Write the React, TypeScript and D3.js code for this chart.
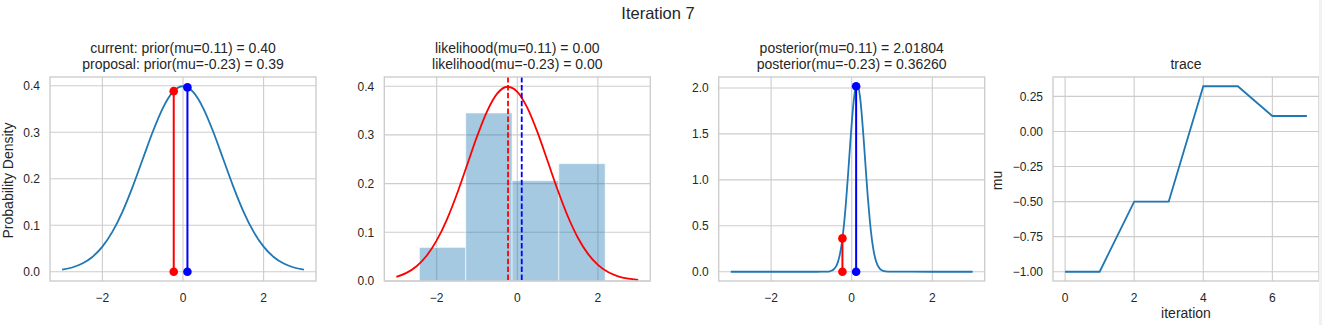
import React from "react";
import * as d3 from "d3";

// ---------- data ----------
const suptitle = "Iteration 7";
const currentMu = 0.11;
const proposalMu = -0.23;
const priorCurrent = 0.3965;
const priorProposal = 0.3885;
const postCurrent = 2.01804;
const postProposal = 0.3626;

const priorX = [-3, -2.75, -2.5, -2.25, -2, -1.75, -1.5, -1.25, -1, -0.75, -0.5, -0.25, 0, 0.25, 0.5, 0.75, 1, 1.25, 1.5, 1.75, 2, 2.25, 2.5, 2.75, 3];
const priorY = [0.00443, 0.00909, 0.01753, 0.03174, 0.05399, 0.08628, 0.12952, 0.18265, 0.24197, 0.30114, 0.35207, 0.38667, 0.39894, 0.38667, 0.35207, 0.30114, 0.24197, 0.18265, 0.12952, 0.08628, 0.05399, 0.03174, 0.01753, 0.00909, 0.00443];

const likeX = [-3, -2.75, -2.5, -2.25, -2, -1.75, -1.5, -1.25, -1, -0.75, -0.5, -0.25, 0, 0.25, 0.5, 0.75, 1, 1.25, 1.5, 1.75, 2, 2.25, 2.5, 2.75, 3];
const likeY = [0.00861, 0.01667, 0.03034, 0.05186, 0.0833, 0.12566, 0.17811, 0.23713, 0.29659, 0.34849, 0.38466, 0.39886, 0.38853, 0.35553, 0.30563, 0.24681, 0.18724, 0.13343, 0.08934, 0.05618, 0.0332, 0.01842, 0.00961, 0.0047, 0.00217];

const histEdges = [-2.43, -1.28, -0.13, 1.03, 2.18];
const histDensity = [0.069, 0.345, 0.206, 0.241];

const postX = [-3, -2, -1, -0.75, -0.7, -0.6, -0.55, -0.5, -0.45, -0.4, -0.35, -0.3, -0.25, -0.2, -0.15, -0.1, -0.05, 0, 0.05, 0.1, 0.15, 0.2, 0.25, 0.3, 0.35, 0.4, 0.45, 0.5, 0.55, 0.6, 0.7, 0.8, 0.9, 1, 2, 3];
const postY = [0, 0, 0, 0.00008, 0.00024, 0.00183, 0.00461, 0.01088, 0.02402, 0.04975, 0.09652, 0.17538, 0.29862, 0.47653, 0.71237, 0.99802, 1.31006, 1.61122, 1.85679, 2.00501, 2.02862, 1.92321, 1.70839, 1.42201, 1.10901, 0.81042, 0.55487, 0.35599, 0.21398, 0.12056, 0.03147, 0.00633, 0.00098, 0.00012, 0, 0];

const traceIter = [0, 1, 2, 3, 4, 5, 6, 7];
const traceMu = [-1.0, -1.0, -0.5, -0.5, 0.322, 0.322, 0.11, 0.11];

const densityTicks = [0, 0.1, 0.2, 0.3, 0.4];
const posteriorTicks = [0, 0.5, 1.0, 1.5, 2.0];
const muXTicks = [-2, 0, 2];
const iterTicks = [0, 2, 4, 6];
const muTicks = [-1.0, -0.75, -0.5, -0.25, 0.0, 0.25];

const titles = [
  ["current: prior(mu=0.11) = 0.40", "proposal: prior(mu=-0.23) = 0.39"],
  ["likelihood(mu=0.11) = 0.00", "likelihood(mu=-0.23) = 0.00"],
  ["posterior(mu=0.11) = 2.01804", "posterior(mu=-0.23) = 0.36260"],
  ["trace"],
];

// ---------- layout ----------
const W = 1322;
const H = 325;
const TOP = 77;
const BOTTOM = 281;
const PW = 266;
const lefts = [50, 384.3, 718.7, 1053];
const FONT = "'Liberation Sans', Arial, Helvetica, sans-serif";
const TXT = "#262626";
const GRID = "#cccccc";
const BLUE = "#1f77b4";

const fmtMinus = (s: string) => s.replace("-", "\u2212");

type AxProps = {
  i: number;
  x: d3.ScaleLinear<number, number>;
  y: d3.ScaleLinear<number, number>;
  xTicks: number[];
  yTicks: number[];
  yFmt: (v: number) => string;
  xFmt: (v: number) => string;
  children?: React.ReactNode;
  ylabel?: string;
  ylabelOffset?: number;
  xlabel?: string;
};

function Axes({ i, x, y, xTicks, yTicks, yFmt, xFmt, children, ylabel, ylabelOffset, xlabel }: AxProps) {
  const L = lefts[i];
  const R = L + PW;
  const lines = titles[i];
  return (
    <g>
      {xTicks.map((t) => (
        <line key={"gx" + t} x1={x(t)} x2={x(t)} y1={TOP} y2={BOTTOM} stroke={GRID} strokeWidth={1.1} />
      ))}
      {yTicks.map((t) => (
        <line key={"gy" + t} x1={L} x2={R} y1={y(t)} y2={y(t)} stroke={GRID} strokeWidth={1.1} />
      ))}
      {children}
      <rect x={L} y={TOP} width={PW} height={BOTTOM - TOP} fill="none" stroke={GRID} strokeWidth={1.35} />
      {xTicks.map((t) => (
        <text key={"tx" + t} x={x(t)} y={BOTTOM + 20.5} textAnchor="middle" fontSize={12} fill={TXT} fontFamily={FONT}>
          {xFmt(t)}
        </text>
      ))}
      {yTicks.map((t) => (
        <text key={"ty" + t} x={L - 10} y={y(t)} dy="0.36em" textAnchor="end" fontSize={12} fill={TXT} fontFamily={FONT}>
          {yFmt(t)}
        </text>
      ))}
      {lines.map((s, k) => (
        <text
          key={"t" + k}
          x={L + PW / 2}
          y={TOP - 8.5 - (lines.length - 1 - k) * 15.6}
          textAnchor="middle"
          fontSize={14}
          fill={TXT}
          fontFamily={FONT}
        >
          {s}
        </text>
      ))}
      {ylabel && (
        <text
          transform={`translate(${L - (ylabelOffset || 36.7)},${(TOP + BOTTOM) / 2 + 1.5}) rotate(-90)`}
          textAnchor="middle"
          fontSize={14}
          fill={TXT}
          fontFamily={FONT}
        >
          {ylabel}
        </text>
      )}
      {xlabel && (
        <text x={L + PW / 2} y={318} textAnchor="middle" fontSize={14} fill={TXT} fontFamily={FONT}>
          {xlabel}
        </text>
      )}
    </g>
  );
}

export default function App() {
  const x1 = d3.scaleLinear().domain([-3.3, 3.3]).range([lefts[0], lefts[0] + PW]);
  const y1 = d3.scaleLinear().domain([-0.01995, 0.41889]).range([BOTTOM, TOP]);
  const x2 = d3.scaleLinear().domain([-3.3, 3.3]).range([lefts[1], lefts[1] + PW]);
  const y2 = d3.scaleLinear().domain([0, 0.41886]).range([BOTTOM, TOP]);
  const x3 = d3.scaleLinear().domain([-3.3, 3.3]).range([lefts[2], lefts[2] + PW]);
  const y3 = d3.scaleLinear().domain([-0.1009, 2.1189]).range([BOTTOM, TOP]);
  const x4 = d3.scaleLinear().domain([-0.35, 7.35]).range([lefts[3], lefts[3] + PW]);
  const y4 = d3.scaleLinear().domain([-1.0661, 0.3881]).range([BOTTOM, TOP]);

  const mk = (xs: number[], ys: number[], sx: any, sy: any, curve: any) =>
    d3
      .line<number>()
      .x((_, k) => sx(xs[k]))
      .y((d) => sy(d))
      .curve(curve)(ys) || "";

  const priorPath = mk(priorX, priorY, x1, y1, d3.curveMonotoneX);
  const likePath = mk(likeX, likeY, x2, y2, d3.curveMonotoneX);
  const postPath = mk(postX, postY, x3, y3, d3.curveMonotoneX);
  const tracePath = mk(traceIter, traceMu, x4, y4, d3.curveLinear);

  const f1 = (v: number) => d3.format(".1f")(v);
  const fInt = (v: number) => fmtMinus(d3.format("d")(v));
  const f2 = (v: number) => fmtMinus(d3.format(".2f")(v));

  const stem = (sx: any, sy: any, mu: number, val: number, color: string) => (
    <g>
      <line x1={sx(mu)} x2={sx(mu)} y1={sy(0)} y2={sy(val)} stroke={color} strokeWidth={2} />
      <circle cx={sx(mu)} cy={sy(0)} r={4.3} fill={color} />
      <circle cx={sx(mu)} cy={sy(val)} r={4.3} fill={color} />
    </g>
  );

  return (
    <svg width={W} height={H} style={{ position: "absolute", left: 0, top: 0, background: "#fff" }}>
      <rect x={0} y={0} width={W} height={H} fill="#fff" />
      <text x={658} y={19} textAnchor="middle" fontSize={16.5} fill={TXT} fontFamily={FONT}>
        {suptitle}
      </text>

      <Axes i={0} x={x1} y={y1} xTicks={muXTicks} yTicks={densityTicks} yFmt={f1} xFmt={fInt} ylabel="Probability Density">
        <path d={priorPath} fill="none" stroke={BLUE} strokeWidth={1.8} />
        {stem(x1, y1, proposalMu, priorProposal, "#ff0000")}
        {stem(x1, y1, currentMu, priorCurrent, "#0000ff")}
      </Axes>

      <Axes i={1} x={x2} y={y2} xTicks={muXTicks} yTicks={densityTicks} yFmt={f1} xFmt={fInt}>
        {histDensity.map((h, k) => (
          <rect
            key={k}
            x={x2(histEdges[k])}
            y={y2(h)}
            width={x2(histEdges[k + 1]) - x2(histEdges[k])}
            height={y2(0) - y2(h)}
            fill={BLUE}
            fillOpacity={0.4}
            stroke="#ffffff"
            strokeOpacity={0.6}
            strokeWidth={1}
          />
        ))}
        <path d={likePath} fill="none" stroke="#ff0000" strokeWidth={1.8} />
        <line x1={x2(proposalMu)} x2={x2(proposalMu)} y1={TOP} y2={BOTTOM} stroke="#ff0000" strokeWidth={1.8} strokeDasharray="5.5,2.4" />
        <line x1={x2(currentMu)} x2={x2(currentMu)} y1={TOP} y2={BOTTOM} stroke="#0000ff" strokeWidth={1.8} strokeDasharray="5.5,2.4" />
      </Axes>

      <Axes i={2} x={x3} y={y3} xTicks={muXTicks} yTicks={posteriorTicks} yFmt={f1} xFmt={fInt}>
        <path d={postPath} fill="none" stroke={BLUE} strokeWidth={1.8} />
        {stem(x3, y3, proposalMu, postProposal, "#ff0000")}
        {stem(x3, y3, currentMu, postCurrent, "#0000ff")}
      </Axes>

      <Axes
        i={3}
        x={x4}
        y={y4}
        xTicks={iterTicks}
        yTicks={muTicks}
        yFmt={f2}
        xFmt={fInt}
        ylabel="mu"
        ylabelOffset={50.7}
        xlabel="iteration"
      >
        <path d={tracePath} fill="none" stroke={BLUE} strokeWidth={1.8} />
      </Axes>

      <rect x={1319} y={0} width={3} height={H} fill="#f1f1f1" />
    </svg>
  );
}
